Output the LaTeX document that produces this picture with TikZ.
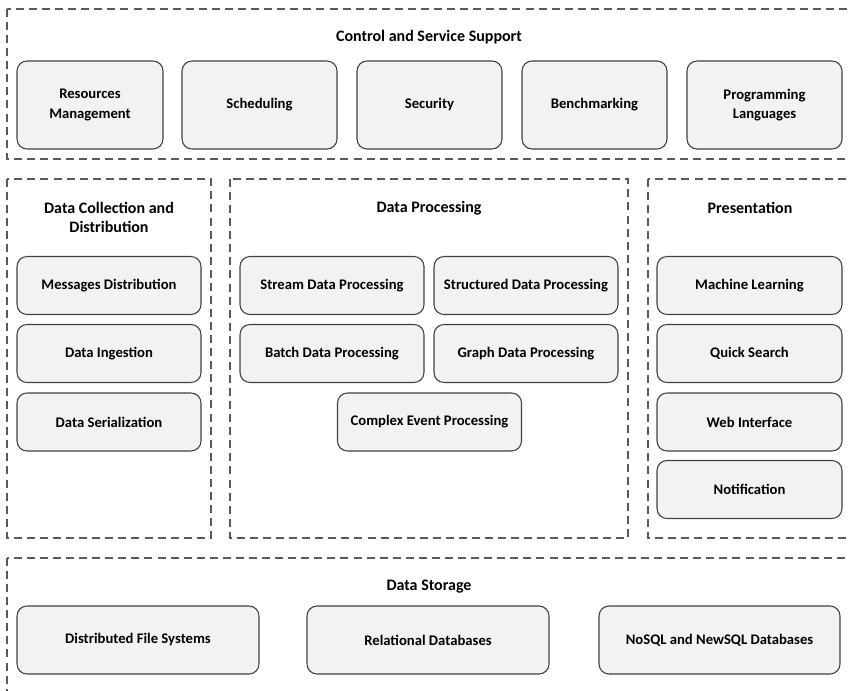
\documentclass[tikz,border=0pt]{standalone}
\usepackage{fontspec}
\setmainfont{Carlito}
\usetikzlibrary{positioning}

\definecolor{boxfill}{HTML}{F2F2F2}
\definecolor{boxline}{HTML}{404040}
\definecolor{frameline}{HTML}{5A5A5A}

\tikzset{
    comp/.style 2 args={draw=boxline, fill=boxfill, line width=0.8pt, rounded corners=7.5pt,
        inner sep=0pt, align=center, minimum width=#1*0.75pt, minimum height=#2*0.75pt,
        font=\fontsize{11}{14.3}\selectfont\bfseries},
    layer/.style={draw=frameline, line width=0.8pt, dash pattern=on 6pt off 3.8pt},
    layertitle/.style={align=center, inner sep=0pt, font=\fontsize{12}{14.3}\selectfont\bfseries}
}

\begin{document}
\begin{tikzpicture}[x=0.75pt, y=-0.75pt]
    \useasboundingbox (0,0) rectangle (849,691);
    \clip (0,0) rectangle (849,691);

    % Control and Service Support
    \draw[layer] (7,9) rectangle (852,159);
    \node[layertitle] (ctrlT) at (429,37) {Control and Service Support};
    \node[comp={146}{88}] (res)   at (90,105)    {Resources\\Management};
    \node[comp={155}{88}] (sched) at (259.5,105) {Scheduling};
    \node[comp={145}{88}] (sec)   at (429.5,105) {Security};
    \node[comp={145}{88}] (bench) at (594.5,105) {Benchmarking};
    \node[comp={155}{88}] (prog)  at (764.5,105) {Programming\\Languages};

    % Data Collection and Distribution
    \draw[layer] (7,179) rectangle (211,538);
    \node[layertitle] (collT) at (109,217.5) {Data Collection and\\Distribution};
    \node[comp={184}{58}] (msg)    at (109,285.5) {Messages Distribution};
    \node[comp={184}{58}] (ingest) at (109,353.5) {Data Ingestion};
    \node[comp={184}{58}] (serial) at (109,422)   {Data Serialization};

    % Data Processing
    \draw[layer] (230,179) rectangle (628,538);
    \node[layertitle] (procT) at (429,208) {Data Processing};
    \node[comp={184}{58}] (stream)  at (332,285.5) {Stream Data Processing};
    \node[comp={184}{58}] (struct)  at (526,285.5) {Structured Data Processing};
    \node[comp={184}{58}] (batch)   at (332,353.5) {Batch Data Processing};
    \node[comp={184}{58}] (graph)   at (526,353.5) {Graph Data Processing};
    \node[comp={184}{58}] (complex) at (429.5,422) {Complex Event Processing};

    % Presentation
    \draw[layer] (648,179) rectangle (852,538);
    \node[layertitle] (presT) at (750,208) {Presentation};
    \node[comp={185}{58}] (ml)     at (749.5,285.5) {Machine Learning};
    \node[comp={185}{58}] (search) at (749.5,353.5) {Quick Search};
    \node[comp={185}{58}] (web)    at (749.5,422)   {Web Interface};
    \node[comp={185}{58}] (notif)  at (749.5,489.5) {Notification};

    % Data Storage
    \draw[layer] (7,558) rectangle (852,720);
    \node[layertitle] (storT) at (429,587) {Data Storage};
    \node[comp={242}{68}] (dfs)   at (138,640)   {Distributed File Systems};
    \node[comp={242}{68}] (rdb)   at (428,640)   {Relational Databases};
    \node[comp={241}{68}] (nosql) at (719.5,640) {NoSQL and NewSQL Databases};

\end{tikzpicture}
\end{document}
